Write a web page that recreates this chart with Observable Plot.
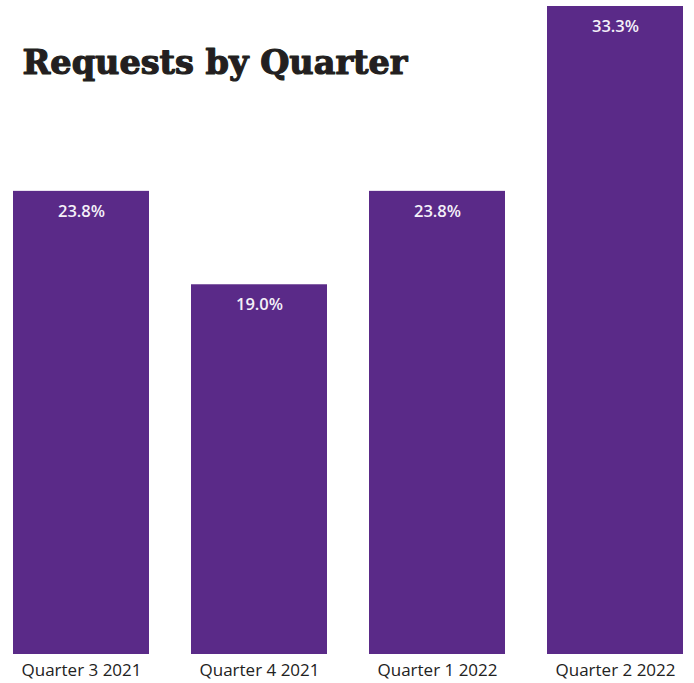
<!DOCTYPE html>
<html>
<head>
<meta charset="utf-8">
<script src="https://cdn.jsdelivr.net/npm/d3@7"></script>
<script src="https://cdn.jsdelivr.net/npm/@observablehq/plot@0.6"></script>
<style>
  html, body { margin: 0; padding: 0; background: #fff; }
  #chart { width: 694px; height: 683px; }
</style>
</head>
<body>
<div id="chart"></div>
<script>
const quarters = ["Quarter 3 2021", "Quarter 4 2021", "Quarter 1 2022", "Quarter 2 2022"];
const shares = [23.8, 19.0, 23.8, 33.3];
const titleText = "Requests by Quarter";

const data = quarters.map((q, i) => ({quarter: q, share: shares[i]}));

const plot = Plot.plot({
  width: 694,
  height: 683,
  marginLeft: 13,
  marginRight: 11,
  marginTop: 6,
  marginBottom: 29,
  style: {background: "#fff", overflow: "visible"},
  x: {domain: quarters, paddingInner: 0.236, paddingOuter: 0, label: null},
  y: {domain: [0, 33.3], axis: null},
  marks: [
    Plot.barY(data, {x: "quarter", y: "share", fill: "#5a2a88", inset: 0}),
    Plot.text(data, {
      x: "quarter", y: "share", text: d => d.share.toFixed(1) + "%",
      dy: 20, fill: "#f4f0f8", fontSize: 16.5, fontWeight: 600,
      fontFamily: "Open Sans"
    }),
    Plot.axisX({
      tickSize: 0, tickPadding: 9, fontSize: 17, fill: "#222",
      fontFamily: "Open Sans", label: null
    }),
    Plot.text([titleText], {
      frameAnchor: "top-left", text: d => d, dx: 9, dy: 57,
      fontSize: 33.5, fontWeight: 700, fontFamily: "DejaVu Serif",
      fill: "#231f20", stroke: "#231f20", strokeWidth: 1.2,
      textAnchor: "start", lineAnchor: "middle"
    })
  ]
});
document.getElementById("chart").appendChild(plot);
</script>
</body>
</html>
